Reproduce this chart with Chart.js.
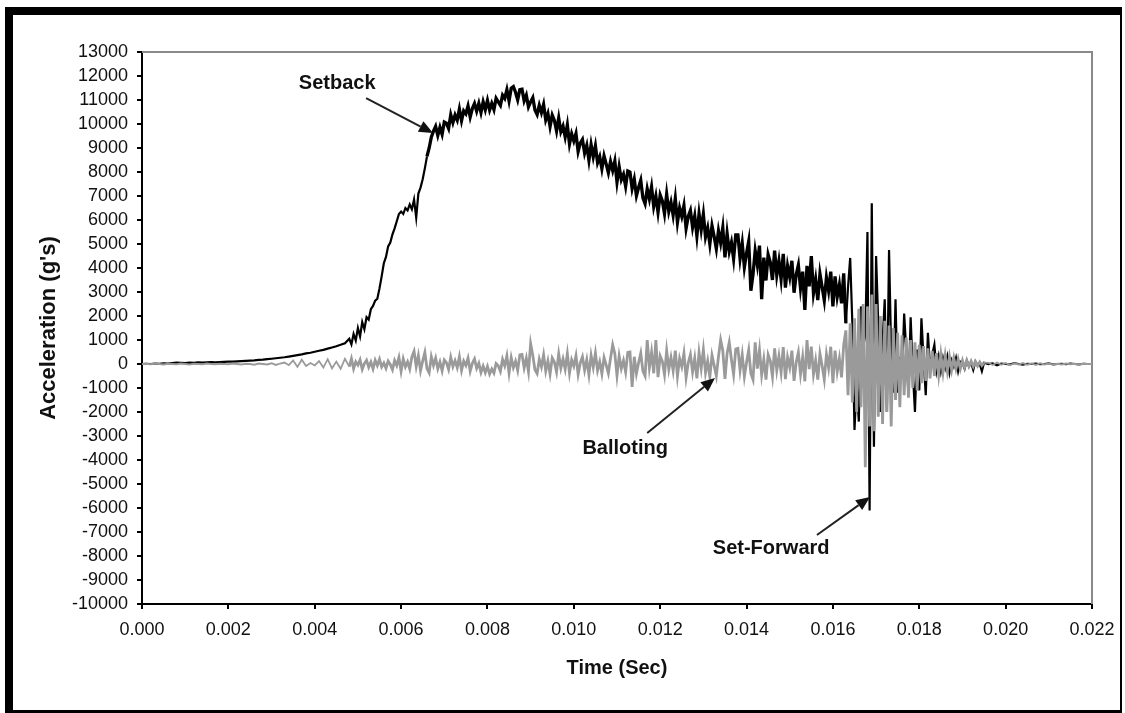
<!DOCTYPE html>
<html>
<head>
<meta charset="utf-8">
<script src="https://cdn.jsdelivr.net/npm/chart.js@4.4.1/dist/chart.umd.min.js"></script>
<style>
  html, body { margin: 0; padding: 0; background: #fff; }
  #wrap { position: relative; width: 1125px; height: 713px; }
</style>
</head>
<body>
<div id="wrap"><canvas id="Canvas" width="1125" height="713"></canvas></div>
<script>
// sample times (s)
const time = [
  0.0000,0.0001,0.0002,0.0003,0.0004,0.0005,0.0006,0.0007,0.0008,0.0009,
  0.0010,0.0011,0.0012,0.0013,0.0014,0.0015,0.0016,0.0017,0.0018,0.0019,
  0.0020,0.0021,0.0022,0.0023,0.0024,0.0025,0.0026,0.0027,0.0028,0.0029,
  0.0030,0.0031,0.0032,0.0033,0.0034,0.0035,0.0036,0.0037,0.0038,0.0039,
  0.0040,0.0041,0.0042,0.0043,0.0044,0.0045,0.0046,0.0047,
  0.00480,0.00485,0.00490,0.00495,0.00500,0.00505,0.00510,0.00515,0.00520,0.00525,
  0.00530,0.00535,0.00540,0.00545,0.00550,0.00555,0.00560,0.00565,0.00570,0.00575,
  0.00580,0.00585,0.00590,0.00595,0.00600,0.00605,0.00610,0.00615,0.00620,0.00625,
  0.00630,0.00635,0.00640,0.00645,0.00650,0.00655,0.00660,0.00665,0.00670,0.00675,
  0.00680,0.00685,0.00690,0.00695,0.00700,0.00705,0.00710,0.00715,0.00720,0.00725,
  0.00730,0.00735,0.00740,0.00745,0.00750,0.00755,0.00760,0.00765,0.00770,0.00775,
  0.00780,0.00785,0.00790,0.00795,0.00800,0.00805,0.00810,0.00815,0.00820,0.00825,
  0.00830,0.00835,0.00840,0.00845,0.00850,0.00855,0.00860,0.00865,0.00870,0.00875,
  0.00880,0.00885,0.00890,0.00895,0.00900,0.00905,0.00910,0.00915,0.00920,0.00925,
  0.00930,0.00935,0.00940,0.00945,0.00950,0.00955,0.00960,0.00965,0.00970,0.00975,
  0.00980,0.00985,0.00990,0.00995,0.01000,0.01005,0.01010,0.01015,0.01020,0.01025,
  0.01030,0.01035,0.01040,0.01045,0.01050,0.01055,0.01060,0.01065,0.01070,0.01075,
  0.01080,0.01085,0.01090,0.01095,0.01100,0.01105,0.01110,0.01115,0.01120,0.01125,
  0.01130,0.01135,0.01140,0.01145,0.01150,0.01155,0.01160,0.01165,0.01170,0.01175,
  0.01180,0.01185,0.01190,0.01195,0.01200,0.01205,0.01210,0.01215,0.01220,0.01225,
  0.01230,0.01235,0.01240,0.01245,0.01250,0.01255,0.01260,0.01265,0.01270,0.01275,
  0.01280,0.01285,0.01290,0.01295,0.01300,0.01305,0.01310,0.01315,0.01320,0.01325,
  0.01330,0.01335,0.01340,0.01345,0.01350,0.01355,0.01360,0.01365,0.01370,0.01375,
  0.01380,0.01385,0.01390,0.01395,0.01400,0.01405,0.01410,0.01415,0.01420,0.01425,
  0.01430,0.01435,0.01440,0.01445,0.01450,0.01455,0.01460,0.01465,0.01470,0.01475,
  0.01480,0.01485,0.01490,0.01495,0.01500,0.01505,0.01510,0.01515,0.01520,0.01525,
  0.01530,0.01535,0.01540,0.01545,0.01550,0.01555,0.01560,0.01565,0.01570,0.01575,
  0.01580,0.01585,0.01590,0.01595,0.01600,0.01605,0.01610,0.01615,0.01620,0.01625,
  0.01630,0.01635,0.01640,0.01645,0.01650,0.01655,0.01660,0.01665,0.01670,0.01675,
  0.01680,0.01685,0.01690,0.01695,0.01700,0.01705,0.01710,0.01715,0.01720,0.01725,
  0.01730,0.01735,0.01740,0.01745,0.01750,0.01755,0.01760,0.01765,0.01770,0.01775,
  0.01780,0.01785,0.01790,0.01795,0.01800,0.01805,0.01810,0.01815,0.01820,0.01825,
  0.01830,0.01835,0.01840,0.01845,0.01850,0.01855,0.01860,0.01865,0.01870,0.01875,
  0.01880,0.01885,0.01890,0.01895,0.01900,0.01905,0.01910,0.01915,0.01920,0.01925,
  0.01930,0.01935,0.01940,0.01945,0.01950,
  0.0196,0.0197,0.0198,0.0199,0.0200,0.0201,0.0202,0.0203,0.0204,0.0205,
  0.0206,0.0207,0.0208,0.0209,0.0210,0.0211,0.0212,0.0213,0.0214,0.0215,
  0.0216,0.0217,0.0218,0.0219,0.0220
];

// Setback accelerometer (g's), black trace
const setback = [
  0,10,0,20,10,30,20,40,60,50,
  40,60,50,70,60,70,80,70,80,90,
  100,100,110,120,130,140,150,170,180,200,
  220,240,260,280,310,340,370,400,440,470,
  510,550,590,640,690,740,800,860,
  1050,820,1250,980,1500,1150,1750,1450,1950,1850,
  2280,2420,2640,2720,3150,3650,4200,4460,4900,5060,
  5400,5650,5950,6250,6350,6250,6500,6400,6650,6450,
  6850,6100,7100,7350,7700,8150,8650,9000,9450,9700,
  9900,9520,9860,9565,10080,10030,9815,10385,10060,10375,
  10160,10625,10140,10545,10425,10750,10290,10645,10855,10535,
  10860,10480,10925,10595,10980,10580,10855,10600,11070,10920,
  10775,11200,11065,11430,10960,11495,11560,11325,11005,11430,
  11450,10965,11200,10715,10920,11095,10580,10395,10780,10475,
  10815,10170,10435,9895,10370,10145,9710,10255,9680,9910,
  9460,9960,9170,9590,9295,9605,8850,9200,9355,8790,
  9110,8485,9140,8635,9090,8385,8640,8135,8670,8325,
  7965,8435,8065,8455,7580,8220,7680,7900,7405,8045,
  8000,7310,7700,7010,7355,7655,6920,6680,7295,6875,
  7380,6565,6995,6320,7040,6795,6265,7080,6360,6740,
  6200,6900,5900,6500,6150,6600,5650,6150,6400,5700,
  6170,5335,6260,5590,6240,5295,5670,5000,5760,5310,
  4800,5550,5055,5680,4440,5435,4690,5065,4385,5380,
  5380,4390,5030,4035,4610,5110,3050,3740,4720,4135,
  4930,2700,4430,3480,4560,4240,3500,4720,3700,4290,
  3540,4585,3180,4085,3615,4300,2970,3725,4125,3155,
  3850,2250,4090,3235,4500,2950,3520,2665,3760,3205,
  2650,3600,3050,3850,2400,3650,2800,3300,2525,3775,
  1700,3200,4420,1700,-2750,-800,-2400,2400,700,1200,
  5500,-6100,6700,-3450,4500,1700,-2000,900,2700,-2000,
  4750,400,-1200,2700,-1200,300,-500,2100,500,-1300,
  1950,-300,-2000,600,-1100,1900,200,-1300,1300,-200,
  400,800,-250,300,-300,250,-150,300,-350,150,
  -100,250,-300,100,50,-200,150,-100,50,-250,
  100,-50,0,-300,50,
  0,30,-50,20,0,-20,40,0,-30,10,
  0,20,-10,0,30,-20,0,10,-10,20,
  0,-20,10,0,0
];

// Balloting accelerometer (g's), grey trace
const balloting = [
  0,10,-10,20,0,-20,10,0,-10,20,
  0,-20,10,0,-10,20,0,-10,10,0,
  -10,20,0,-20,10,0,-30,20,0,-20,
  30,-40,20,60,-50,150,-120,180,-80,40,
  -60,120,-150,200,-180,100,-200,220,
  -110,220,-200,90,-45,175,-220,20,155,-130,
  80,-200,160,-60,200,-120,40,-180,120,-20,
  -240,150,-60,270,-300,210,-120,90,-210,300,
  530,-100,350,-280,125,485,-190,-370,305,-55,
  250,-195,85,-280,170,55,-225,280,-110,140,
  -150,300,-270,120,-60,240,-300,30,210,-180,
  30,-350,-90,-360,-100,-420,-210,-380,20,-70,
  -305,190,-75,340,-380,265,-150,115,-265,380,
  400,-160,240,-320,850,360,-240,-400,200,-120,
  380,-295,125,-420,250,85,-335,420,-170,210,
  -215,430,-385,170,-85,345,-430,45,300,-260,
  180,-450,360,-135,450,-270,90,-405,270,-45,
  -385,240,800,430,-480,335,-190,145,-335,480,
  500,-950,300,-400,50,450,-300,-500,1000,-150,
  495,-385,1000,-550,330,110,-440,550,-220,275,
  -280,560,-505,225,-110,450,-560,55,390,-335,
  240,-600,480,-180,600,-360,120,-540,360,-60,
  -495,310,1000,560,-620,435,900,185,-435,620,
  650,-260,390,-520,65,585,-390,-650,900,-195,
  585,-455,195,-650,390,130,-520,650,-260,325,
  -350,700,-630,280,-140,560,-700,70,490,-420,
  290,-720,1000,-215,720,-430,145,-650,430,-70,
  -640,400,-160,720,-800,560,-320,240,-560,800,
  1400,-1300,1700,-1600,1900,-2000,2300,-1800,2500,-4300,
  2400,-2600,2900,-2800,2500,-2200,2000,-2500,1800,-2000,
  1600,-2600,1500,-1500,1300,-1800,1200,-1300,1100,-1400,
  1000,-1000,900,-1100,800,-800,750,-700,650,-600,
  550,-500,450,-450,400,-350,350,-300,300,-250,
  250,-200,200,-200,150,-150,150,-100,120,-100,
  100,-80,80,-60,60,
  50,-40,60,-30,40,-50,30,-20,40,-30,
  20,-40,30,-20,20,-30,10,-20,20,-10,
  10,-20,10,0,0
];

// axis ticks
const xTickStep = 0.002;
const yTickStep = 1000;
const xRange = [0, 0.022];
const yRange = [-10000, 13000];

// call-outs: label, text centre, arrow tail, arrow head (data units)
const noteLabels = ["Setback", "Balloting", "Set-Forward"];
const noteText = [[0.00452, 11700], [0.01119, -3540], [0.01457, -7700]];
const noteFrom = [[0.00519, 11080], [0.01170, -2875], [0.01563, -7125]];
const noteTo = [[0.00674, 9625], [0.01327, -583], [0.01686, -5540]];

const FONT = "'Liberation Sans', Arial, sans-serif";

function pts(ys) {
  return ys.map((y, i) => ({ x: time[i], y: y }));
}

// heavier stroke where the trace is noisy, so the band reads solid
function widthBetween(from, to, thick, thin) {
  return c => (c.p0.parsed.x >= from && c.p0.parsed.x < to ? thick : thin);
}

const framePlugin = {
  id: "frame",
  beforeDatasetsDraw(chart) {
    const a = chart.chartArea, c = chart.ctx;
    c.save();
    c.strokeStyle = "#8a8a8a";
    c.lineWidth = 2;
    c.beginPath();
    c.moveTo(a.left, a.top);
    c.lineTo(a.right, a.top);
    c.lineTo(a.right, a.bottom);
    c.stroke();
    c.restore();
  },
  afterDraw(chart) {
    const c = chart.ctx, xs = chart.scales.x, ys = chart.scales.y;
    c.save();
    // call-outs
    c.font = "bold 20px " + FONT;
    c.fillStyle = "#111";
    c.textAlign = "center";
    c.textBaseline = "middle";
    noteLabels.forEach((lab, i) => {
      c.fillText(lab, xs.getPixelForValue(noteText[i][0]), ys.getPixelForValue(noteText[i][1]));
      const x1 = xs.getPixelForValue(noteFrom[i][0]), y1 = ys.getPixelForValue(noteFrom[i][1]);
      const x2 = xs.getPixelForValue(noteTo[i][0]), y2 = ys.getPixelForValue(noteTo[i][1]);
      const ang = Math.atan2(y2 - y1, x2 - x1);
      const hl = 14, hw = 6;
      c.strokeStyle = "#222";
      c.lineWidth = 2;
      c.beginPath();
      c.moveTo(x1, y1);
      c.lineTo(x2 - Math.cos(ang) * hl, y2 - Math.sin(ang) * hl);
      c.stroke();
      c.beginPath();
      c.moveTo(x2, y2);
      c.lineTo(x2 - Math.cos(ang) * hl - Math.sin(ang) * hw, y2 - Math.sin(ang) * hl + Math.cos(ang) * hw);
      c.lineTo(x2 - Math.cos(ang) * hl + Math.sin(ang) * hw, y2 - Math.sin(ang) * hl - Math.cos(ang) * hw);
      c.closePath();
      c.fillStyle = "#111";
      c.fill();
    });
    // picture border
    c.fillStyle = "#000";
    c.fillRect(5, 7, 1117, 8);
    c.fillRect(5, 7, 8, 706);
    c.fillRect(1120, 7, 2, 706);
    c.fillRect(5, 710, 1117, 3);
    c.restore();
  }
};

const ctx = document.getElementById("Canvas").getContext("2d");

const chart = new Chart(ctx, {
  type: "line",
  data: {
    datasets: [
      {
        label: "Balloting",
        data: pts(balloting),
        borderColor: "#9a9a9a",
        borderWidth: 1.8,
        segment: { borderWidth: widthBetween(0.0048, 0.0195, 2.8, 1.8) },
        pointRadius: 0,
        tension: 0,
        order: 0
      },
      {
        label: "Setback",
        data: pts(setback),
        borderColor: "#000",
        borderWidth: 2.2,
        segment: { borderWidth: widthBetween(0.0066, 0.0163, 3.3, 2.2) },
        pointRadius: 0,
        tension: 0,
        order: 1
      }
    ]
  },
  options: {
    responsive: false,
    animation: false,
    events: [],
    layout: { padding: { left: 36, right: 33, top: 52, bottom: 33 }, autoPadding: false },
    plugins: { legend: { display: false }, tooltip: { enabled: false } },
    scales: {
      x: {
        type: "linear",
        min: xRange[0],
        max: xRange[1],
        afterFit(s) { s.height = 76; },
        border: { color: "#000", width: 2 },
        grid: { drawOnChartArea: false, drawTicks: true, tickLength: 5, color: "#000", lineWidth: 2 },
        ticks: {
          stepSize: xTickStep,
          autoSkip: false,
          maxRotation: 0,
          padding: 10,
          color: "#111",
          font: { family: FONT, size: 18 },
          callback: v => v.toFixed(3)
        },
        title: {
          display: true,
          text: "Time (Sec)",
          color: "#111",
          font: { family: FONT, size: 20, weight: "bold" },
          padding: 0
        }
      },
      y: {
        type: "linear",
        min: yRange[0],
        max: yRange[1],
        afterFit(s) { s.width = 106; },
        border: { color: "#000", width: 2 },
        grid: { drawOnChartArea: false, drawTicks: true, tickLength: 5, color: "#000", lineWidth: 2 },
        ticks: {
          stepSize: yTickStep,
          autoSkip: false,
          padding: 9,
          color: "#111",
          font: { family: FONT, size: 18 },
          callback: v => String(Math.round(v))
        },
        title: {
          display: true,
          text: "Acceleration (g's)",
          color: "#111",
          font: { family: FONT, size: 22, weight: "bold" },
          padding: 0
        }
      }
    }
  },
  plugins: [framePlugin]
});
</script>
</body>
</html>
